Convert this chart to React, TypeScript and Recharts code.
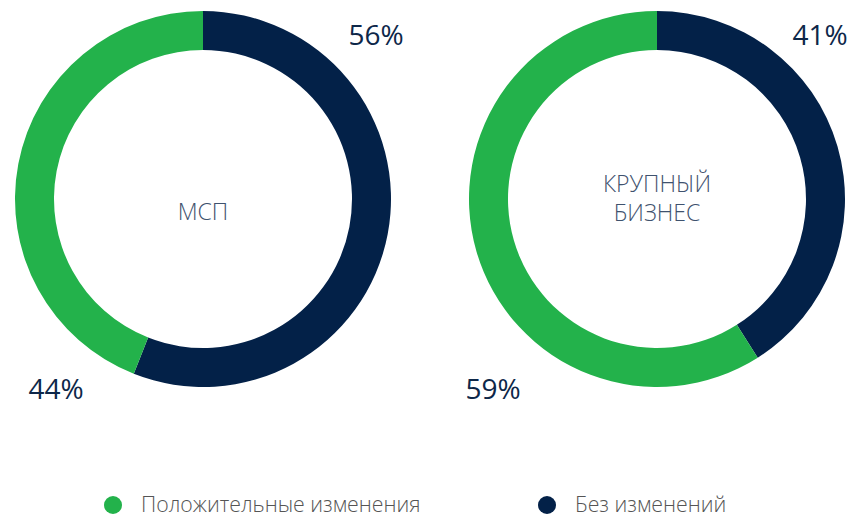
import { Label, Legend, Pie, PieChart } from "recharts"

const categories = ["Без изменений", "Положительные изменения"]
const smeValues = [56, 44]
const corpValues = [41, 59]
const centerTitles = [["МСП"], ["КРУПНЫЙ", "БИЗНЕС"]]
const legendOrder = ["Положительные изменения", "Без изменений"]

const COLORS: Record<string, string> = {
  "Без изменений": "#032148",
  "Положительные изменения": "#23b24b",
}
const FONT = "'Open Sans', 'Noto Sans', sans-serif"
const CENTERS = [
  { cx: 203, cy: 199 },
  { cx: 657, cy: 199 },
]
// offsets of the percentage labels from each ring centre: [navy, green]
const LABEL_OFFSETS = [
  [
    [173, -165],
    [-147, 189],
  ],
  [
    [163, -165],
    [-164, 189],
  ],
]

const toData = (vals: number[]) =>
  categories.map((name, i) => ({ name, value: vals[i], fill: COLORS[name] }))

const smeData = toData(smeValues)
const corpData = toData(corpValues)

function pctLabel(chart: number) {
  return (props: any) => {
    const { cx, cy, name, value } = props
    const [dx, dy] = LABEL_OFFSETS[chart][name === categories[0] ? 0 : 1]
    return (
      <text
        x={cx + dx}
        y={cy + dy}
        textAnchor="middle"
        dominantBaseline="central"
        fill="#0d2749"
        fontSize={28}
        fontFamily={FONT}
      >
        {value}%
      </text>
    )
  }
}

function centerLabel(lines: string[], c: { cx: number; cy: number }) {
  return () => {
    const lh = 29
    const start = c.cy + 21 - (lines.length - 1) * 28
    return (
      <g>
        {lines.map((l, i) => (
          <text
            key={l}
            x={c.cx}
            y={start + i * lh}
            textAnchor="middle"
            fill="#3f526e"
            fontSize={23}
            fontWeight={300}
            fontFamily={FONT}
          >
            {l}
          </text>
        ))}
      </g>
    )
  }
}

function LegendBox() {
  const xs = [113, 547]
  return (
    <svg width={856} height={40} style={{ position: "absolute", left: 0, top: 0 }}>
      {legendOrder.map((name, i) => (
        <g key={name}>
          <circle cx={xs[i]} cy={20} r={9} fill={COLORS[name]} />
          <text x={xs[i] + 28} y={27} fill="#555555" fontSize={21.3} fontWeight={300} fontFamily={FONT}>
            {name}
          </text>
        </g>
      ))}
    </svg>
  )
}

export default function App() {
  return (
    <div style={{ position: "absolute", left: 0, top: 0, width: 856, height: 517, background: "#fff" }}>
      <PieChart width={856} height={517} margin={{ top: 0, right: 0, bottom: 0, left: 0 }}>
        <Pie
          data={smeData}
          dataKey="value"
          nameKey="name"
          cx={CENTERS[0].cx}
          cy={CENTERS[0].cy}
          innerRadius={149}
          outerRadius={188}
          startAngle={90}
          endAngle={-270}
          stroke="none"
          labelLine={false}
          label={pctLabel(0)}
          isAnimationActive={false}
        >
          <Label position="center" content={centerLabel(centerTitles[0], CENTERS[0])} />
        </Pie>
        <Pie
          data={corpData}
          dataKey="value"
          nameKey="name"
          cx={CENTERS[1].cx}
          cy={CENTERS[1].cy}
          innerRadius={149}
          outerRadius={188}
          startAngle={90}
          endAngle={-270}
          stroke="none"
          labelLine={false}
          label={pctLabel(1)}
          isAnimationActive={false}
        >
          <Label position="center" content={centerLabel(centerTitles[1], CENTERS[1])} />
        </Pie>
        <Legend
          content={() => <LegendBox />}
          wrapperStyle={{ position: "absolute", left: 0, top: 485, width: 856, height: 40 }}
        />
      </PieChart>
    </div>
  )
}
